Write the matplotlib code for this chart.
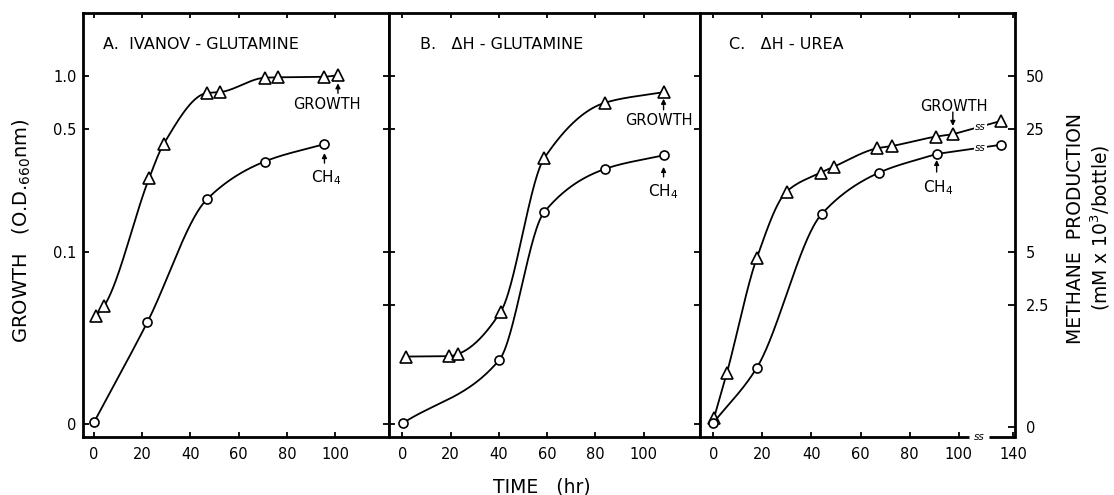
import numpy as np
import matplotlib
matplotlib.use("Agg")
import matplotlib.pyplot as plt
from matplotlib.ticker import NullLocator

plt.rcParams['font.family'] = ['DejaVu Sans']
plt.rcParams['mathtext.fontset'] = 'dejavusans'

# ---------------- data ----------------
# time in hr, growth in O.D.660nm, methane in mM x 10^3 / bottle
a_growth_time = [0.7, 4.2, 22.9, 28.9, 46.9, 52.3, 71.0, 76.5, 95.3, 101.2]
a_growth_od = [0.043, 0.049, 0.262, 0.41, 0.80, 0.81, 0.978, 0.983, 0.99, 1.01]
a_ch4_time = [0.2, 22.2, 46.9, 70.8, 95.6]
a_ch4_mm = [0.54, 1.99, 9.95, 16.3, 20.5]

b_growth_time = [1.4, 19.4, 23.2, 40.8, 58.8, 84.1, 108.3]
b_growth_od = [0.0253, 0.0254, 0.0262, 0.0456, 0.34, 0.705, 0.81]
b_ch4_time = [0.4, 40.2, 58.8, 84.1, 108.3]
b_ch4_mm = [0.53, 1.21, 8.4, 14.8, 17.7]

c_growth_time = [0.3, 5.5, 17.7, 29.9, 43.8, 49.2, 66.8, 72.9, 90.7, 97.6, 131.0]
c_growth_od = [0.0113, 0.0203, 0.0917, 0.22, 0.282, 0.305, 0.388, 0.40, 0.452, 0.466, 0.555]
c_ch4_time = [0.0, 17.7, 44.2, 67.6, 91.0, 131.0]
c_ch4_mm = [0.53, 1.09, 8.2, 14.1, 18.0, 20.3]

titles = ['A.  IVANOV - GLUTAMINE', 'B.   \u0394H - GLUTAMINE', 'C.   \u0394H - UREA']
od_ticks_a = [1.0, 0.5, 0.1, 0.0105]
od_labels_a = ['1.0', '0.5', '0.1', '0']
od_ticks = [1.0, 0.5, 0.1, 0.05, 0.0105]
ch4_ticks = [50, 25, 5, 2.5, 0.5]
ch4_labels = ['50', '25', '5', '2.5', '0']
time_ticks = [0, 20, 40, 60, 80, 100]
c_time_ticks = [0, 20, 40, 60, 80, 100, 140]
c_time_labels = ['0', '20', '40', '60', '80', '100', '140']

# ---------------- style ----------------
YLO, YHI = 0.00876, 2.27
CH4_PER_OD = 50.0
LW = 1.3
SPINE = 2.0
BREAK, KCOMP = 100.0, 0.555


def fwd(x):
    x = np.asarray(x, float)
    return np.where(x <= BREAK, x, BREAK + (x - BREAK) * KCOMP)


def inv(u):
    u = np.asarray(u, float)
    return np.where(u <= BREAK, u, BREAK + (u - BREAK) / KCOMP)


def smooth(x, y, n=300):
    """monotone cubic (PCHIP) through the points, in log10(y)."""
    x = np.asarray(x, float)
    y = np.log10(np.asarray(y, float))
    h = np.diff(x)
    d = np.diff(y) / h
    m = np.zeros_like(y)
    m[0], m[-1] = d[0], d[-1]
    for k in range(1, len(x) - 1):
        if d[k - 1] * d[k] <= 0:
            m[k] = 0.0
        else:
            w1 = 2 * h[k] + h[k - 1]
            w2 = h[k] + 2 * h[k - 1]
            m[k] = (w1 + w2) / (w1 / d[k - 1] + w2 / d[k])
    xs = np.linspace(x[0], x[-1], n)
    idx = np.clip(np.searchsorted(x, xs) - 1, 0, len(x) - 2)
    t = (xs - x[idx]) / h[idx]
    h00 = 2 * t**3 - 3 * t**2 + 1
    h10 = t**3 - 2 * t**2 + t
    h01 = -2 * t**3 + 3 * t**2
    h11 = t**3 - t**2
    ys = h00 * y[idx] + h10 * h[idx] * m[idx] + h01 * y[idx + 1] + h11 * h[idx] * m[idx + 1]
    return xs, 10 ** ys


def draw_series(ax, t, v, marker, ms, n_smooth=None):
    t = list(t)
    v = list(v)
    if n_smooth is None:
        n_smooth = len(t)
    xs, ys = smooth(t[:n_smooth], v[:n_smooth])
    ax.plot(xs, ys, color='black', lw=LW, zorder=2)
    if n_smooth < len(t):
        ax.plot(t[n_smooth - 1:], v[n_smooth - 1:], color='black', lw=LW, zorder=2)
    ax.plot(t, v, linestyle='none', marker=marker, ms=ms, mfc='white',
            mec='black', mew=1.2, zorder=3)


def label(ax, x, y, text, dx, dy, arrow_from, arrow_to, fs=10.5):
    ax.annotate(text, xy=(x, y), xytext=(dx, dy), textcoords='offset points',
                ha='center', va='center', fontsize=fs)
    ax.annotate('', xy=(x, y), xytext=(0, arrow_from), textcoords='offset points',
                arrowprops=dict(arrowstyle='-|>', color='black', lw=1.0,
                                mutation_scale=7, shrinkA=0, shrinkB=abs(arrow_to)))


fig = plt.figure(figsize=(11.14, 4.95), dpi=100)
b0, hh = 0.1162, 0.8566
axA = fig.add_axes([0.07478, b0, 0.27469, hh])
axB = fig.add_axes([0.34946, b0, 0.27846, hh])
axC = fig.add_axes([0.62837, b0, 0.28276, hh])

axC.set_xscale('function', functions=(fwd, inv))
for ax, xl in ((axA, (-4.4, 122.5)), (axB, (-5.4, 123.2)), (axC, (-5.4, 141.3))):
    ax.set_yscale('log')
    ax.set_ylim(YLO, YHI)
    ax.set_xlim(*xl)
    ax.yaxis.set_minor_locator(NullLocator())
    ax.xaxis.set_minor_locator(NullLocator())
    for s in ax.spines.values():
        s.set_linewidth(SPINE)

twins = []
for ax in (axA, axB, axC):
    a2 = ax.twinx()
    a2.set_yscale('log')
    a2.set_ylim(YLO * CH4_PER_OD, YHI * CH4_PER_OD)
    a2.yaxis.set_minor_locator(NullLocator())
    for s in a2.spines.values():
        s.set_visible(False)
    a2.tick_params(axis='y', which='both', left=False, right=False,
                   labelleft=False, labelright=False)
    twins.append(a2)
a2A, a2B, a2C = twins

# x ticks
for ax in (axA, axB):
    ax.set_xticks(time_ticks)
    ax.set_xticklabels([str(v) for v in time_ticks])
axC.set_xticks(c_time_ticks)
axC.set_xticklabels(c_time_labels)
for ax in (axA, axB, axC):
    ax.tick_params(axis='x', which='major', direction='in', top=True, bottom=True,
                   length=3.8, width=1.3, labelsize=10.5, pad=7)

# y ticks
axA.set_yticks(od_ticks_a)
axA.set_yticklabels(od_labels_a)
axA.tick_params(axis='y', which='major', direction='in', left=True, right=False,
                length=4.5, width=1.3, labelsize=10.5, pad=5)
axB.set_yticks(od_ticks)
axB.set_yticklabels([''] * len(od_ticks))
axB.tick_params(axis='y', which='major', direction='inout', left=True, right=True,
                labelleft=False, labelright=False, length=8.5, width=1.3)
axC.set_yticks(od_ticks)
axC.set_yticklabels([''] * len(od_ticks))
axC.tick_params(axis='y', which='major', left=False, right=False,
                labelleft=False, labelright=False)
a2C.set_yticks(ch4_ticks)
a2C.set_yticklabels(ch4_labels)
a2C.yaxis.set_minor_locator(NullLocator())
a2C.tick_params(axis='y', which='major', direction='in', right=True, labelright=True,
                length=5, width=1.3, labelsize=10.5, pad=8)

# broken bottom axis of panel C
axC.spines['bottom'].set_visible(False)
axC.plot([0, 0.855], [0, 0], transform=axC.transAxes, color='black', lw=SPINE,
         clip_on=False, solid_capstyle='butt', zorder=5)
axC.plot([0.916, 1.0], [0, 0], transform=axC.transAxes, color='black', lw=SPINE,
         clip_on=False, solid_capstyle='butt', zorder=5)
axC.text(0.886, 0.0, 'ss', transform=axC.transAxes, ha='center', va='center',
         fontsize=7.5, style='italic')

# series
draw_series(axA, a_growth_time, a_growth_od, '^', 8)
draw_series(a2A, a_ch4_time, a_ch4_mm, 'o', 6.5)
draw_series(axB, b_growth_time, b_growth_od, '^', 8)
draw_series(a2B, b_ch4_time, b_ch4_mm, 'o', 6.5)
draw_series(axC, c_growth_time, c_growth_od, '^', 8, n_smooth=len(c_growth_time) - 1)
draw_series(a2C, c_ch4_time, c_ch4_mm, 'o', 6.5, n_smooth=len(c_ch4_time) - 1)


# break marks on the panel C lines
def break_mark(ax, t, v):
    x_break = 116.0
    u0, u1 = fwd(t[-2]), fwd(t[-1])
    frac = (fwd(x_break) - u0) / (u1 - u0)
    y = 10 ** (np.log10(v[-2]) + frac * (np.log10(v[-1]) - np.log10(v[-2])))
    ax.text(x_break, y, 'ss', ha='center', va='center', fontsize=7.5, style='italic',
            zorder=4, bbox=dict(facecolor='white', edgecolor='none', pad=1.0))


break_mark(axC, c_growth_time, c_growth_od)
break_mark(a2C, c_ch4_time, c_ch4_mm)

# panel titles
for ax, ttl, xpos in ((axA, titles[0], 0.064), (axB, titles[1], 0.099), (axC, titles[2], 0.092)):
    ax.text(xpos, 0.926, ttl, transform=ax.transAxes, ha='left', va='center', fontsize=11.5)

# GROWTH / CH4 labels with arrows
label(axA, a_growth_time[-1], a_growth_od[-1], 'GROWTH', -7.7, -21, -13, 5.8)
label(a2A, a_ch4_time[-1], a_ch4_mm[-1], 'CH$_4$', 1.5, -24, -13.7, 6.5, fs=11)
label(axB, b_growth_time[-1], b_growth_od[-1], 'GROWTH', -3.1, -20.7, -12.7, 4.8)
label(a2B, b_ch4_time[-1], b_ch4_mm[-1], 'CH$_4$', 0, -26, -15.6, 8.4, fs=11)
label(axC, c_growth_time[-2], c_growth_od[-2], 'GROWTH', 1, 20, 16, 6)
label(a2C, c_ch4_time[-2], c_ch4_mm[-2], 'CH$_4$', 1, -24, -13, 4.3, fs=11)

# axis titles
fig.text(0.0197, 0.533, 'GROWTH   (O.D.$_{660}$nm)', rotation=90, ha='center', va='center',
         fontsize=14)
fig.text(0.9655, 0.539, 'METHANE  PRODUCTION', rotation=90, ha='center', va='center',
         fontsize=13.5)
fig.text(0.9875, 0.539, '(mM x 10$^3$/bottle)', rotation=90, ha='center', va='center',
         fontsize=13.5)
fig.text(0.4865, 0.0162, 'TIME   (hr)', ha='center', va='center', fontsize=13.5)

fig.savefig('out.png', dpi=100)
